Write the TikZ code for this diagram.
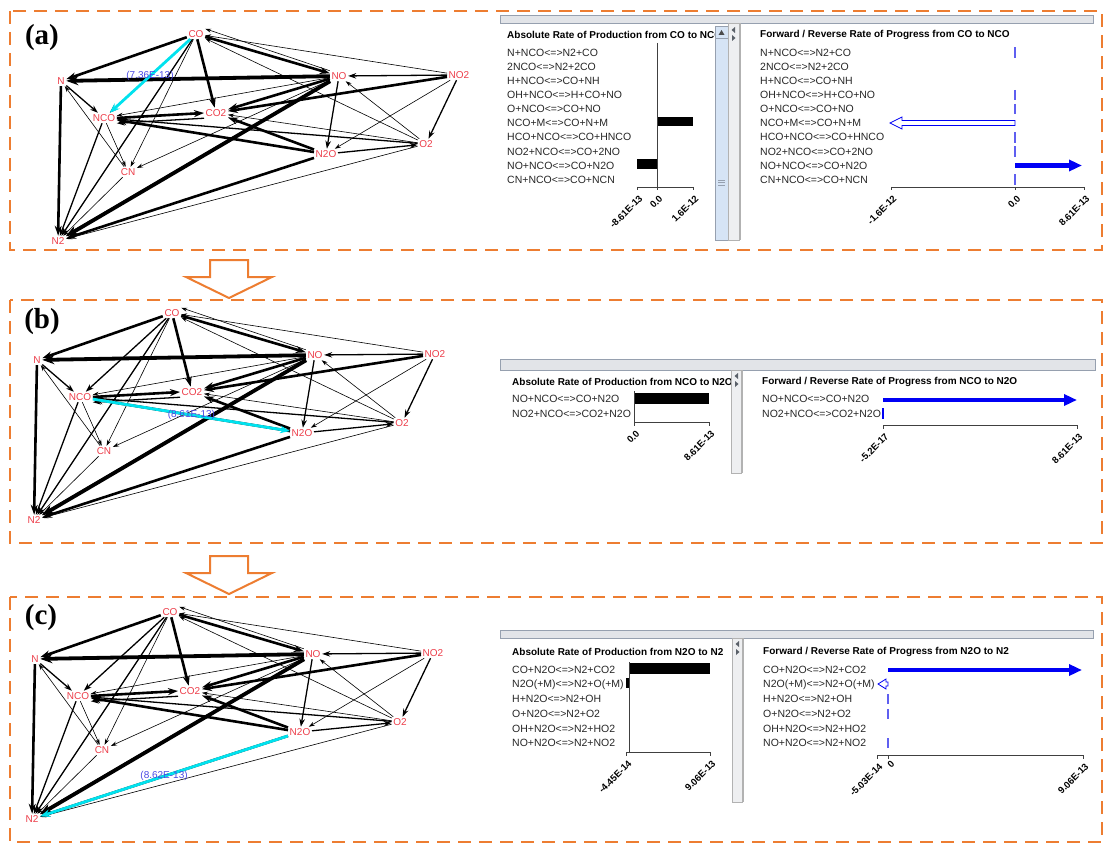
\documentclass[tikz,border=0pt]{standalone}
\usepackage{fontspec}
\setmainfont{Liberation Serif}
\setsansfont{Liberation Sans}
\usetikzlibrary{arrows.meta}

\definecolor{panelorange}{RGB}{237,125,49}
\definecolor{speciesred}{RGB}{236,62,74}
\definecolor{pathcyan}{RGB}{0,226,238}
\definecolor{ratetext}{RGB}{72,72,228}
\definecolor{rateblue}{RGB}{0,0,245}
\definecolor{zeroblue}{RGB}{95,95,240}
\definecolor{stripgray}{RGB}{226,228,232}
\definecolor{stripline}{RGB}{150,160,175}
\definecolor{scrollblue}{RGB}{214,228,245}

\begin{document}
\begin{tikzpicture}[x=1pt,y=-1pt]
\tikzstyle{panel} = [draw=panelorange, line width=2.8pt, dash pattern=on 13pt off 8pt]
\tikzstyle{panellabel} = [font=\bfseries\fontsize{29}{31}\selectfont, inner sep=0pt]
\tikzstyle{flowarrow} = [draw=panelorange, line width=2pt, fill=white, line join=miter]
\tikzstyle{species} = [text=speciesred, font=\sffamily\fontsize{10}{11}\selectfont, inner sep=1.5pt]
\tikzstyle{lightedge} = [-{Stealth[length=6pt,width=4pt]}, line width=0.6pt]
\tikzstyle{midedge} = [-{Stealth[length=8pt,width=5.5pt]}, line width=1.3pt]
\tikzstyle{heavyedge} = [-{Stealth[length=10pt,width=7pt]}, line width=2.6pt]
\tikzstyle{hugeedge} = [-{Stealth[length=12pt,width=9pt]}, line width=3.8pt]
\tikzstyle{pathedge} = [draw=pathcyan, line width=2.8pt, -{Stealth[length=10pt,width=7.5pt]}]
\tikzstyle{ratelabel} = [text=ratetext, font=\sffamily\fontsize{10}{11}\selectfont, inner sep=0pt]
\tikzstyle{strip} = [fill=stripgray, draw=stripline, line width=0.7pt]
\tikzstyle{divider} = [fill=stripgray!60, draw=gray!60, line width=0.6pt]
\tikzstyle{scrollbar} = [fill=scrollblue, draw=stripline, line width=0.6pt]
\tikzstyle{charttitle} = [anchor=west, inner sep=0pt, font=\sffamily\bfseries\fontsize{10}{11}\selectfont]
\tikzstyle{rxn} = [anchor=west, inner sep=0pt, text=black!85, font=\sffamily\fontsize{10.5}{11}\selectfont]
\tikzstyle{chartaxis} = [draw=black!75, line width=0.8pt]
\tikzstyle{ticklabel} = [anchor=east, rotate=45, inner sep=0pt, font=\sffamily\bfseries\fontsize{9.5}{10}\selectfont]
\tikzstyle{ratebar} = [fill=black]
\tikzstyle{fwdarrow} = [draw=rateblue, line width=4.5pt, -{Triangle[length=13pt,width=11pt]}]
\tikzstyle{revarrow} = [draw=rateblue, fill=white, line width=0.8pt, line join=miter]
\tikzstyle{zerotick} = [draw=zeroblue, line width=1.2pt]

\useasboundingbox (0,0) rectangle (1110,845);

% dashed panels and the steps between them
\draw [panel] (10,11) rectangle (1102,250);
\draw [panel] (10,300) rectangle (1102,543);
\draw [panel] (10,597) rectangle (1102,842);
\node (labela) [panellabel] at (42,38) {(a)};
\node (labelb) [panellabel] at (42,322) {(b)};
\node (labelc) [panellabel] at (41,618) {(c)};
\foreach \dy in {0,296}
  \draw [flowarrow, shift={(0,\dy)}] (210,260) -- (248,260) -- (248,277) -- (272,277) -- (229,298) -- (186,277) -- (210,277) -- cycle;

% reaction network, once per panel
\foreach \p/\dx/\dy in {a/24/11, b/0/290, c/-2/589} {
  \begin{scope}[shift={(\dx,\dy)}]
    \node (\p CO)  [species] at (172,23)  {CO};
    \node (\p N)   [species] at (37,70)   {N};
    \node (\p NO)  [species] at (315,65)  {NO};
    \node (\p NO2) [species] at (435,64)  {NO2};
    \node (\p NCO) [species] at (80,107)  {NCO};
    \node (\p CO2) [species] at (192,102) {CO2};
    \node (\p O2)  [species] at (402,133) {O2};
    \node (\p N2O) [species] at (302,143) {N2O};
    \node (\p CN)  [species] at (104,161) {CN};
    \node (\p N2)  [species] at (34,230)  {N2};
  \end{scope}
  \foreach \src/\dst/\wt in {CO/N/heavyedge, NO/N/hugeedge, CO/NO/heavyedge, CO/CO2/heavyedge,
      CO/NCO/midedge, CO/CN/lightedge, CO/N2/midedge, N/NCO/midedge, CN/N/lightedge,
      NCO/CN/lightedge, NO/CO2/heavyedge, NO2/CO2/heavyedge, NO2/NO/midedge, NO2/CO/lightedge,
      NO2/O2/midedge, NO2/N2O/lightedge, NO/N2O/midedge, O2/NO/lightedge, O2/CO/lightedge,
      N2O/CO2/heavyedge, N2O/O2/midedge, O2/NCO/midedge, O2/CO2/lightedge, NO/CN/lightedge,
      NO/NCO/lightedge, NCO/N2/midedge, N/N2/heavyedge, CN/N2/lightedge, NO/N2/hugeedge,
      N2O/N2/heavyedge, O2/N2/lightedge, N2O/NCO/heavyedge}
    \draw [\wt] (\p\src) -- (\p\dst);
  \draw [lightedge] (\p NO.north west) -- (\p CO.north east);
  \draw [heavyedge] (\p NCO.east) -- (\p CO2.west);
  \draw [midedge] (\p CO2.south west) -- (\p NCO.south east);
  \draw [heavyedge] (\p NO.south west) -- (\p N2.north east);
}

% the step followed in each panel
\draw [pathedge] (aCO) -- node (ratea) [ratelabel] {(7.36E-13)} (aNCO);
\draw [pathedge] (bNCO) -- node (rateb) [ratelabel] {(8.61E-13)} (bN2O);
\draw [pathedge] (cN2O) -- node (ratec) [ratelabel] {(8.62E-13)} (cN2);

% (a) rate charts
\draw [strip] (500,15) rectangle (1093,23);
\node (atitleL) [charttitle] at (507,35) {Absolute Rate of Production from CO to NCO};
\node (atitleR) [charttitle] at (760,35) {Forward / Reverse Rate of Progress from CO to NCO};
\foreach \r [count=\i from 0] in {N+NCO<=>N2+CO, 2NCO<=>N2+2CO, H+NCO<=>CO+NH, OH+NCO<=>H+CO+NO,
    O+NCO<=>CO+NO, NCO+M<=>CO+N+M, HCO+NCO<=>CO+HNCO, NO2+NCO<=>CO+2NO, NO+NCO<=>CO+N2O,
    CN+NCO<=>CO+NCN} {
  \node (arowL\i) [rxn] at (507,52.7+14.1*\i) {\r};
  \node (arowR\i) [rxn] at (760,52.7+14.1*\i) {\r};
}
\fill [ratebar] (657,117) rectangle (693,126.5);
\fill [ratebar] (637,159.5) rectangle (657,169);
\draw [chartaxis] (657,43) -- (657,187);
\draw [chartaxis] (637,187) -- (693,187);
\foreach \x in {637,657,693} \draw [chartaxis] (\x,187) -- (\x,190.5);
\node (atickL1) [ticklabel] at (641,197) {-8.61E-13};
\node (atickL2) [ticklabel] at (661,197) {0.0};
\node (atickL3) [ticklabel] at (697,197) {1.6E-12};
\foreach \i in {0,3,4,6,7,9} \draw [zerotick] (1015,47.5+14.1*\i) -- (1015,58+14.1*\i);
\draw [revarrow] (1015,120.5) -- (902,120.5) -- (902,117) -- (890,123) -- (902,129) -- (902,125.5) -- (1015,125.5) -- cycle;
\draw [fwdarrow] (1015,165.5) -- (1082,165.5);
\draw [chartaxis] (891,187) -- (1084,187);
\foreach \x in {891,1015,1084} \draw [chartaxis] (\x,187) -- (\x,190.5);
\node (atickR1) [ticklabel] at (895,197) {-1.6E-12};
\node (atickR2) [ticklabel] at (1019,197) {0.0};
\node (atickR3) [ticklabel] at (1088,197) {8.61E-13};
\draw [scrollbar] (715,26) rectangle (728,240);
\draw [scrollbar] (715,26) rectangle (728,38);
\fill [black!70] (718.5,35) -- (724.5,35) -- (721.5,30) -- cycle;
\foreach \g in {180,182.5,185} \draw [stripline] (718,\g) -- (725,\g);
\draw [divider] (728,23) rectangle (739,240);
\fill [stripline!60!black] (735,27) -- (731.5,30) -- (735,33) -- cycle;
\fill [stripline!60!black] (732,35) -- (735.5,38) -- (732,41) -- cycle;
\draw [gray!60, line width=0.8pt] (740,23) -- (740,240);

% (b) rate charts
\draw [strip] (500,359) rectangle (1095,370);
\node (btitleL) [charttitle] at (512,382) {Absolute Rate of Production from NCO to N2O};
\node (btitleR) [charttitle] at (762,382) {Forward / Reverse Rate of Progress from NCO to N2O};
\foreach \r [count=\i from 0] in {NO+NCO<=>CO+N2O, NO2+NCO<=>CO2+N2O} {
  \node (browL\i) [rxn] at (512,399+15*\i) {\r};
  \node (browR\i) [rxn] at (762,399+15*\i) {\r};
}
\fill [ratebar] (634,393) rectangle (709,403.5);
\draw [chartaxis] (634,391) -- (634,422);
\draw [chartaxis] (634,422) -- (709,422);
\foreach \x in {634,709} \draw [chartaxis] (\x,422) -- (\x,425.5);
\node (btickL1) [ticklabel] at (638,432) {0.0};
\node (btickL2) [ticklabel] at (713,432) {8.61E-13};
\draw [fwdarrow] (883,400) -- (1077,400);
\draw [rateblue, line width=1.2pt] (883,408) -- (883,419);
\draw [chartaxis] (883,425) -- (1077,425);
\foreach \x in {883,1077} \draw [chartaxis] (\x,425) -- (\x,428.5);
\node (btickR1) [ticklabel] at (887,435) {-5.2E-17};
\node (btickR2) [ticklabel] at (1081,435) {8.61E-13};
\draw [divider] (731,370) rectangle (741,473);
\fill [stripline!60!black] (738,373) -- (734.5,376) -- (738,379) -- cycle;
\fill [stripline!60!black] (735,381) -- (738.5,384) -- (735,387) -- cycle;
\draw [gray!60, line width=0.8pt] (742,370) -- (742,473);

% (c) rate charts
\draw [strip] (500,630) rectangle (1093,638);
\node (ctitleL) [charttitle] at (512,652) {Absolute Rate of Production from N2O to N2};
\node (ctitleR) [charttitle] at (763,652) {Forward / Reverse Rate of Progress from N2O to N2};
\foreach \r [count=\i from 0] in {CO+N2O<=>N2+CO2, N2O(+M)<=>N2+O(+M), H+N2O<=>N2+OH,
    O+N2O<=>N2+O2, OH+N2O<=>N2+HO2, NO+N2O<=>N2+NO2} {
  \node (crowL\i) [rxn] at (512,670+14.6*\i) {\r};
  \node (crowR\i) [rxn] at (763,670+14.6*\i) {\r};
}
\fill [ratebar] (629,663) rectangle (710,673.5);
\fill [ratebar] (626,677.5) rectangle (629,688);
\draw [chartaxis] (629,662) -- (629,752);
\draw [chartaxis] (626,752) -- (710,752);
\foreach \x in {626,710} \draw [chartaxis] (\x,752) -- (\x,755.5);
\node (ctickL1) [ticklabel] at (630,762) {-4.45E-14};
\node (ctickL2) [ticklabel] at (714,762) {9.06E-13};
\draw [fwdarrow] (888,670) -- (1082,670);
\draw [revarrow] (888,682) -- (886,682) -- (886,679) -- (878,684) -- (886,689) -- (886,686) -- (888,686) -- cycle;
\foreach \i in {2,3,5} \draw [zerotick] (888,665+14.6*\i) -- (888,675+14.6*\i);
\draw [chartaxis] (877,755) -- (1083,755);
\foreach \x in {877,888,1083} \draw [chartaxis] (\x,755) -- (\x,758.5);
\node (ctickR1) [ticklabel] at (881,765) {-5.03E-14};
\node (ctickR2) [ticklabel] at (893,762) {0};
\node (ctickR3) [ticklabel] at (1087,765) {9.06E-13};
\draw [divider] (732,638) rectangle (742,802);
\fill [stripline!60!black] (739,641) -- (735.5,644) -- (739,647) -- cycle;
\fill [stripline!60!black] (736,649) -- (739.5,652) -- (736,655) -- cycle;
\draw [gray!60, line width=0.8pt] (743,638) -- (743,802);

\end{tikzpicture}
\end{document}
